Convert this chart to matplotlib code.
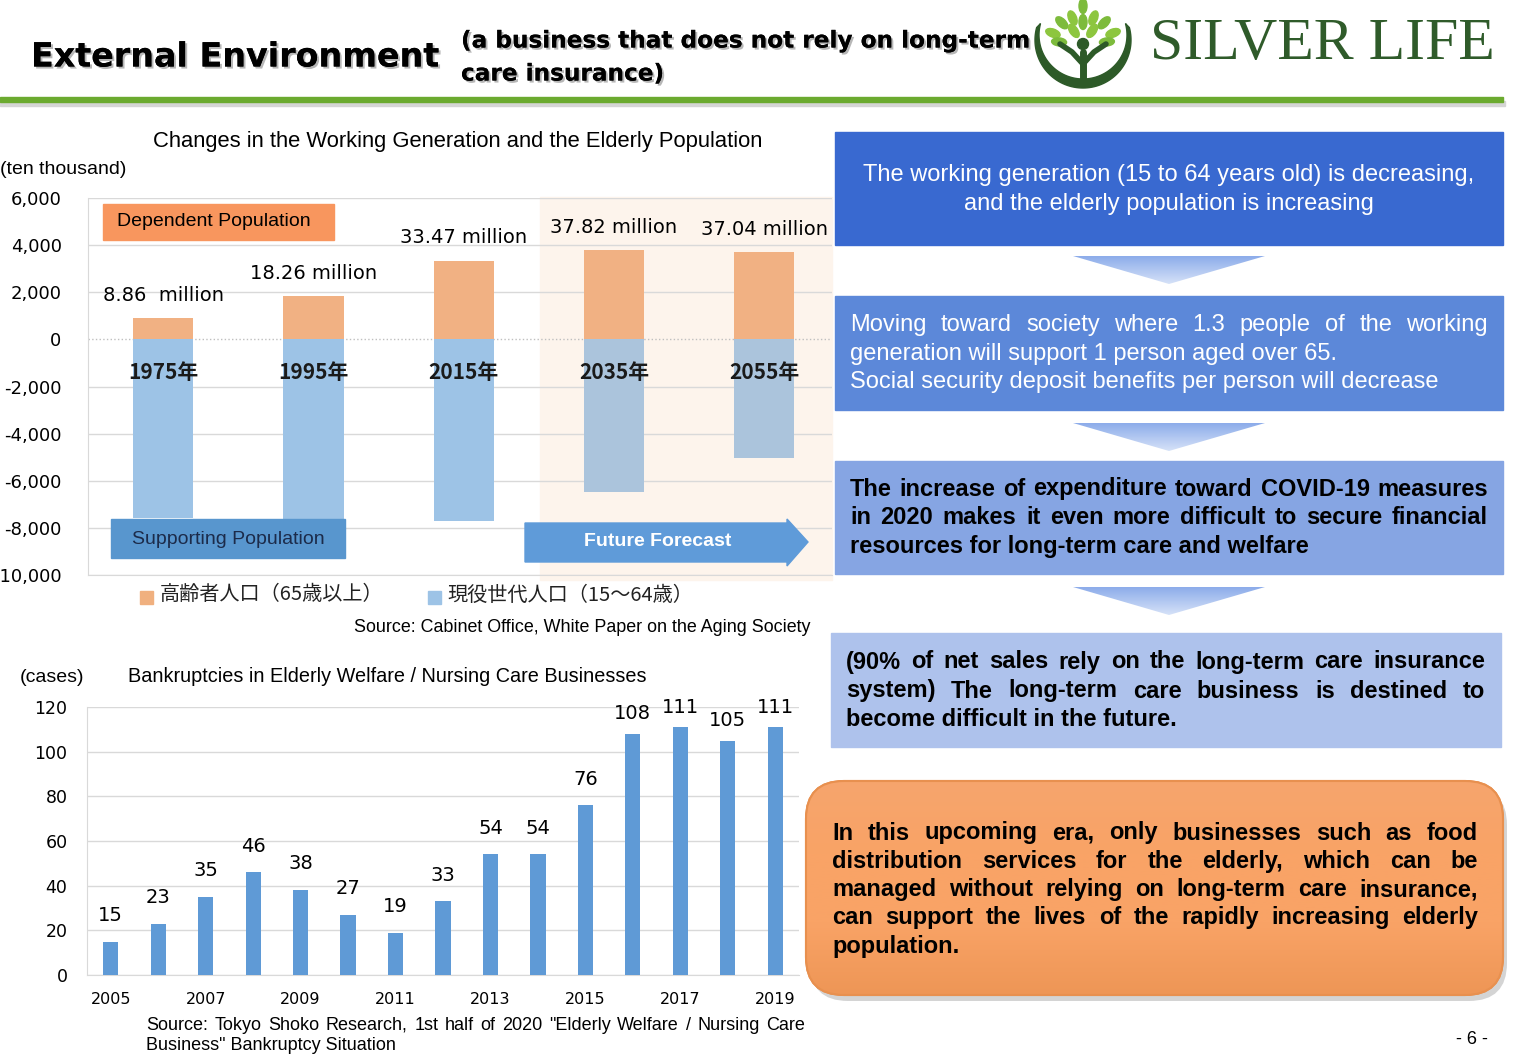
import matplotlib
matplotlib.use("Agg")
from matplotlib import pyplot as plt
from matplotlib import patches
from matplotlib import patheffects as pe
from matplotlib.colors import LinearSegmentedColormap
from matplotlib.ticker import FuncFormatter
import numpy as np

## 生産年齢人口と高齢者人口 (単位: 万人)
pop_years = ["1975年", "1995年", "2015年", "2035年", "2055年"]
elderly = [886, 1826, 3347, 3782, 3704]
working = [7584, 8726, 7728, 6494, 5028]
elderly_labels = ["8.86  million", "18.26 million", "33.47 million", "37.82 million", "37.04 million"]
forecast_from = 3
pop_ticks = [6000, 4000, 2000, 0, -2000, -4000, -6000, -8000, -10000]

## 老人福祉・介護事業の倒産件数
bk_years = list(range(2005, 2020))
bk_cases = [15, 23, 35, 46, 38, 27, 19, 33, 54, 54, 76, 108, 111, 105, 111]
bk_ticks = [0, 20, 40, 60, 80, 100, 120]

## 右側のテキスト
box1_lines = ["The working generation (15 to 64 years old) is decreasing,",
              "and the elderly population is increasing"]
box2_lines = ["Moving toward society where 1.3 people of the working",
              "generation will support 1 person aged over 65.",
              "Social security deposit benefits per person will decrease"]
box3_lines = ["The increase of expenditure toward COVID-19 measures",
              "in 2020 makes it even more difficult to secure financial",
              "resources for long-term care and welfare"]
box4_lines = ["(90% of net sales rely on the long-term care insurance",
              "system) The long-term care business is destined to",
              "become difficult in the future."]
orange_lines = ["In this upcoming era, only businesses such as food",
                "distribution services for the elderly, which can be",
                "managed without relying on long-term care insurance,",
                "can support the lives of the rapidly increasing elderly",
                "population."]
source2_lines = ['Source: Tokyo Shoko Research, 1st half of 2020 "Elderly Welfare / Nursing Care',
                 'Business" Bankruptcy Situation']

plt.rcParams["font.family"] = ["Liberation Sans", "DejaVu Sans"]
CJK = ["Noto Sans CJK JP", "DejaVu Sans"]

W, H = 1515, 1060
fig = plt.figure(figsize=(W / 100, H / 100), dpi=100)


def overlay(z):
    a = fig.add_axes([0, 0, 1, 1], zorder=z)
    a.set_xlim(0, W)
    a.set_ylim(H, 0)
    a.axis("off")
    return a


bg = overlay(0)
fg = overlay(5)
renderer = fig.canvas.get_renderer()


def justify(ax, line, x0, x1, y, **kw):
    words = line.split(" ")
    items = [ax.text(x0, y, w, va="center", **kw) for w in words]
    widths = [t.get_window_extent(renderer).width for t in items]
    gap = (x1 - x0 - sum(widths)) / max(len(words) - 1, 1)
    pos = x0
    for t, w in zip(items, widths):
        t.set_x(pos)
        pos += w + gap


def paragraph(ax, lines, x0, x1, y0, step, n_just, **kw):
    for k, line in enumerate(lines):
        y = y0 + k * step
        if k < n_just:
            justify(ax, line, x0, x1, y, **kw)
        else:
            ax.text(x0, y, line, va="center", **kw)


def grad_fill(ax, patch, colors, x0, x1, y0, y1, z):
    g = np.linspace(0, 1, 128).reshape(-1, 1)
    cmap = LinearSegmentedColormap.from_list("g", colors)
    im = ax.imshow(g, cmap=cmap, extent=(x0, x1, y1, y0), aspect="auto",
                   origin="upper", zorder=z)
    im.set_clip_path(patch)


## ヘッダー
shadow = [pe.withSimplePatchShadow(offset=(1.5, -1.5), shadow_rgbFace="#888888", alpha=0.6), pe.Normal()]
fg.text(31, 57, "External Environment", fontsize=24, fontweight="bold",
        family="DejaVu Sans", va="center", path_effects=shadow)
fg.text(461, 41, "(a business that does not rely on long-term", fontsize=16.7,
        fontweight="bold", family="DejaVu Sans", va="center", path_effects=shadow)
fg.text(461, 74, "care insurance)", fontsize=16.7, fontweight="bold",
        family="DejaVu Sans", va="center", path_effects=shadow)
bg.add_patch(patches.Rectangle((0, 101), 1505, 5, color="#D5D5D5", zorder=1))
bg.add_patch(patches.Rectangle((0, 97), 1503, 5, color="#6BAA2F", zorder=2))

## ロゴ
dark = "#2D5A28"
t = np.radians(np.linspace(-15, 195, 100))
outer = np.c_[1083 + 48 * np.cos(t), 40 + 48 * np.sin(t)]
inner = np.c_[1083 + 44 * np.cos(t), 35 + 44 * np.sin(t)][::-1]
fg.add_patch(patches.Polygon(np.r_[outer, inner], closed=True, color=dark))
fg.plot([1083, 1083], [84, 52], color=dark, lw=5, solid_capstyle="round")
fg.plot([1083, 1072, 1060], [64, 52, 44], color=dark, lw=4, solid_capstyle="round")
fg.plot([1083, 1094, 1106], [64, 52, 44], color=dark, lw=4, solid_capstyle="round")
fg.add_patch(patches.Circle((1083, 44), 5.5, color=dark))
for ang, r, c in [(90, 38, "#7DBB3C"), (68, 28, "#8DC63F"), (112, 28, "#8DC63F"),
                  (45, 30, "#7DBB3C"), (135, 30, "#7DBB3C"), (20, 32, "#8DC63F"),
                  (160, 32, "#8DC63F"), (90, 22, "#7DBB3C"), (55, 16, "#8DC63F"),
                  (125, 16, "#8DC63F"), (5, 24, "#7DBB3C"), (175, 24, "#7DBB3C")]:
    a = np.radians(ang)
    fg.add_patch(patches.Ellipse((1083 + r * np.cos(a), 44 - r * np.sin(a)), 8, 15,
                                 angle=90 - ang, color=c))
fg.text(1150, 45, "SILVER LIFE", fontsize=43, family="Liberation Serif",
        color="#2F5B2A", va="center")

## 上のグラフ
bg.add_patch(patches.Rectangle((540, 197), 292, 383, color="#FDF4EC"))
fg.text(458, 141, "Changes in the Working Generation and the Elderly Population",
        fontsize=15.8, ha="center", va="center")
fg.text(0, 169, "(ten thousand)", fontsize=14, va="center")

ax1 = fig.add_axes([88 / W, 1 - 575 / H, 744 / W, 377 / H], zorder=2)
ax1.set_facecolor("none")
x = np.arange(len(pop_years))
work_colors = ["#9DC3E6" if i < forecast_from else "#ABC4DC" for i in x]
ax1.bar(x, elderly, width=0.4, color="#F1B183", zorder=3)
ax1.bar(x, [-w for w in working], width=0.4, color=work_colors, zorder=3)
ax1.set_xlim(-0.5, 4.45)
ax1.set_ylim(-10000, 6000)
ax1.set_yticks(pop_ticks)
ax1.yaxis.set_major_formatter(FuncFormatter(lambda v, p: f"{v:,.0f}"))
ax1.set_xticks([])
ax1.tick_params(axis="y", length=0, pad=19, labelsize=13)
for lab in ax1.get_yticklabels():
    lab.set_family("DejaVu Sans")
ax1.grid(axis="y", color="#D9D9D9", lw=1)
ax1.set_axisbelow(True)
for v, gl in zip(pop_ticks, ax1.yaxis.get_gridlines()):
    if v == 0:
        gl.set_linestyle(":")
        gl.set_color("#BFBFBF")
for s in ["top", "right"]:
    ax1.spines[s].set_visible(False)
for s in ["left", "bottom"]:
    ax1.spines[s].set_color("#D9D9D9")
for i in x:
    ax1.annotate(elderly_labels[i], (i, elderly[i]), xytext=(0, 16.5),
                 textcoords="offset points", ha="center", va="center",
                 fontsize=14, family="DejaVu Sans")
    ax1.text(i, -1400, pop_years[i], ha="center", va="center", fontsize=15,
             fontweight="bold", family=CJK, color="#1A1A1A", zorder=4)

fg.add_patch(patches.Rectangle((103, 204), 231, 36, color="#F8965E"))
fg.text(117, 222, "Dependent Population", fontsize=14, va="center")
fg.add_patch(patches.Rectangle((111, 519), 234, 39, color="#5896CE"))
fg.text(228, 539, "Supporting Population", fontsize=14, va="center", ha="center",
        color="#1C2B4A")
fg.add_patch(patches.Polygon([(525, 523), (787, 523), (787, 519), (808, 542),
                              (787, 566), (787, 562), (525, 562)], color="#5F9BD9"))
fg.text(658, 542, "Future Forecast", fontsize=14, va="center", ha="center",
        color="white", fontweight="bold")

fg.add_patch(patches.Rectangle((140, 591), 13, 13, color="#F0B07F"))
fg.text(160, 595, "高齢者人口（65歳以上）", fontsize=14.5, va="center", family=CJK, color="#222222")
fg.add_patch(patches.Rectangle((428, 591), 13, 13, color="#9DC3E6"))
fg.text(447, 595, "現役世代人口（15～64歳）", fontsize=14.5, va="center", family=CJK, color="#222222")
fg.text(810, 628, "Source: Cabinet Office, White Paper on the Aging Society",
        fontsize=12.9, ha="right", va="center")

## 下のグラフ
fg.text(20, 677, "(cases)", fontsize=14, va="center")
fg.text(128, 677, "Bankruptcies in Elderly Welfare / Nursing Care Businesses",
        fontsize=14.3, va="center")
ax2 = fig.add_axes([87 / W, 1 - 975 / H, 712 / W, 268 / H], zorder=2)
ax2.set_facecolor("none")
ax2.bar(bk_years, bk_cases, width=0.32, color="#5F9AD6", zorder=3)
ax2.set_xlim(2004.5, 2019.5)
ax2.set_ylim(0, 120)
ax2.set_xticks(bk_years[::2])
ax2.set_yticks(bk_ticks)
ax2.tick_params(axis="x", length=0, pad=12, labelsize=11.5)
ax2.tick_params(axis="y", length=0, pad=14, labelsize=12.5)
for lab in ax2.get_xticklabels() + ax2.get_yticklabels():
    lab.set_family("DejaVu Sans")
ax2.grid(axis="y", color="#D9D9D9", lw=1)
ax2.set_axisbelow(True)
for s in ["top", "right"]:
    ax2.spines[s].set_visible(False)
for s in ["left", "bottom"]:
    ax2.spines[s].set_color("#D9D9D9")
for yr, v in zip(bk_years, bk_cases):
    ax2.annotate(str(v), (yr, v), xytext=(0, 12 if v < 100 else 7.5),
                 textcoords="offset points", ha="center", va="bottom",
                 fontsize=14, family="DejaVu Sans")
paragraph(fg, source2_lines, 146, 805, 1025, 21, 1, fontsize=13)

## 右側のボックス
boxes = [(835, 132, 668, 113, "#3969D0"), (835, 296, 668, 114, "#5C88D9"),
         (835, 461, 668, 113, "#86A5E3"), (831, 633, 670, 114, "#AEC2EC")]
for bx, by, bw, bh, c in boxes:
    fg.add_patch(patches.Rectangle((bx, by), bw, bh, color=c, zorder=1))
for ytop in [256, 423, 587]:
    tri = patches.Polygon([(1073, ytop), (1265, ytop), (1169, ytop + 28)], closed=True,
                          fc="none", ec="none")
    fg.add_patch(tri)
    grad_fill(fg, tri, ["#8CACEA", "#D6E2F8"], 1073, 1265, ytop, ytop + 28, 1)

for k, line in enumerate(box1_lines):
    fg.text(1169, 175 + 29 * k, line, fontsize=17, color="white", ha="center", va="center")
paragraph(fg, box2_lines, 850, 1488, 325, 28.7, 1, fontsize=17, color="white")
paragraph(fg, box3_lines, 850, 1488, 489, 28.5, 2, fontsize=17, fontweight="bold")
paragraph(fg, box4_lines, 846, 1485, 662, 29, 2, fontsize=17, fontweight="bold")

shadow_box = patches.FancyBboxPatch((810, 787), 697, 214, boxstyle="round,pad=0,rounding_size=38",
                                    fc="#A0A0A0", ec="none", alpha=0.45, zorder=1)
fg.add_patch(shadow_box)
obox = patches.FancyBboxPatch((806, 781), 697, 214, boxstyle="round,pad=0,rounding_size=38",
                              fc="#F8A265", ec="#E8904F", lw=1.5, zorder=2)
fg.add_patch(obox)
grad_fill(fg, obox, ["#F6A56D", "#F9A366", "#F9A366", "#EE9656"], 806, 1503, 781, 995, 2)
fg.add_patch(patches.FancyBboxPatch((806, 781), 697, 214, boxstyle="round,pad=0,rounding_size=38",
                                    fc="none", ec="#E8904F", lw=1.5, zorder=2))
paragraph(fg, orange_lines, 832, 1478, 833, 28.3, 4, fontsize=17, fontweight="bold", zorder=3)

fg.text(1472, 1039, "- 6 -", fontsize=13, ha="center", va="center")

for a in (bg, fg):
    a.set_xlim(0, W)
    a.set_ylim(H, 0)

fig.savefig("out.png", dpi=100)
